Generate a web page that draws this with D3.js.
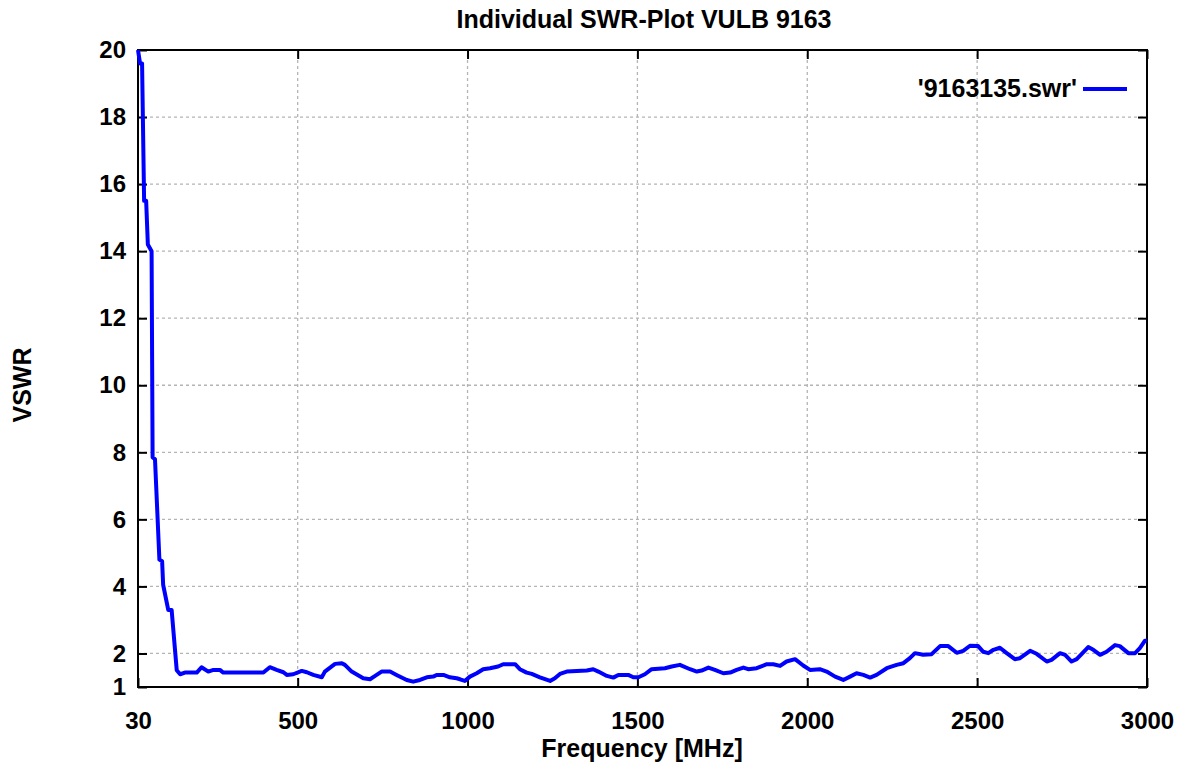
<!DOCTYPE html>
<html>
<head>
<meta charset="utf-8">
<script src="https://cdn.jsdelivr.net/npm/d3@7"></script>
<style>
  body { margin: 0; background: #fff; }
  text { font-family: "Liberation Sans", Arial, sans-serif; font-weight: bold; fill: #000; }
</style>
</head>
<body>
<div id="chart"></div>
<script>
// measured SWR trace, frequency in MHz
var freq = [30, 36, 42, 48, 54, 59, 70, 73, 80, 93, 101, 104, 119, 129, 144, 154, 168, 203,
    217, 237, 252, 271, 281, 399, 418, 438, 458, 468, 487, 512, 527, 546, 571, 580, 610,
    630, 639, 659, 693, 713, 728, 747, 772, 791, 821, 840, 860, 880, 899, 909, 929, 948,
    968, 978, 992, 1007, 1027, 1046, 1066, 1090, 1105, 1140, 1154, 1174, 1189, 1213, 1243,
    1257, 1272, 1292, 1351, 1370, 1385, 1410, 1429, 1444, 1473, 1488, 1503, 1522, 1542,
    1581, 1601, 1625, 1655, 1675, 1689, 1709, 1728, 1753, 1773, 1792, 1812, 1826, 1851,
    1881, 1900, 1920, 1939, 1964, 1988, 2008, 2037, 2057, 2082, 2106, 2126, 2145, 2165,
    2185, 2204, 2234, 2263, 2283, 2302, 2317, 2341, 2366, 2391, 2415, 2440, 2459, 2479,
    2503, 2518, 2533, 2548, 2567, 2587, 2611, 2626, 2656, 2675, 2705, 2719, 2744, 2759,
    2778, 2793, 2808, 2827, 2842, 2862, 2881, 2906, 2920, 2945, 2965, 2979, 2994, 3000];
var vswr = [20.0, 19.6, 19.6, 15.5, 15.5, 14.2, 14.0, 7.85, 7.8, 4.8, 4.75, 4.05, 3.3, 3.3, 1.5, 1.38, 1.43, 1.43,
    1.59, 1.46, 1.51, 1.51, 1.43, 1.43, 1.59, 1.51, 1.44, 1.36, 1.38, 1.48, 1.44, 1.36, 1.29, 1.46, 1.69,
    1.71, 1.66, 1.46, 1.26, 1.23, 1.33, 1.46, 1.46, 1.36, 1.21, 1.16, 1.21, 1.29, 1.31, 1.36, 1.36, 1.29,
    1.26, 1.23, 1.18, 1.31, 1.41, 1.53, 1.56, 1.61, 1.68, 1.68, 1.53, 1.43, 1.39, 1.29, 1.18,
    1.26, 1.39, 1.46, 1.49, 1.53, 1.46, 1.33, 1.28, 1.36, 1.36, 1.29, 1.29, 1.38, 1.53,
    1.56, 1.61, 1.66, 1.53, 1.46, 1.49, 1.58, 1.51, 1.41, 1.43, 1.51, 1.58, 1.53, 1.56,
    1.68, 1.68, 1.63, 1.76, 1.83, 1.64, 1.51, 1.53, 1.46, 1.31, 1.21, 1.31, 1.41, 1.36,
    1.28, 1.36, 1.56, 1.66, 1.71, 1.86, 2.01, 1.96, 1.98, 2.22, 2.22, 2.02, 2.08, 2.23,
    2.22, 2.05, 2.01, 2.11, 2.17, 2.01, 1.83, 1.86, 2.08, 1.99, 1.76, 1.81, 2.01, 1.96,
    1.76, 1.83, 1.99, 2.19, 2.11, 1.96, 2.05, 2.25, 2.22, 2.01, 2.01, 2.16, 2.38, 2.38];

var xTicks = [30, 500, 1000, 1500, 2000, 2500, 3000];
var yTicks = [1, 2, 4, 6, 8, 10, 12, 14, 16, 18, 20];

var titleText = "Individual SWR-Plot VULB 9163";
var xLabel = "Frequency [MHz]";
var yLabel = "VSWR";
var legendLabel = "'9163135.swr'";

var width = 1189, height = 769;
var margin = {left: 138, right: 42, top: 50, bottom: 82};

var svg = d3.select("#chart").append("svg")
    .attr("width", width)
    .attr("height", height);

var x = d3.scaleLinear().domain([30, 3000]).range([margin.left, width - margin.right]);
var y = d3.scaleLinear().domain([1, 20]).range([height - margin.bottom, margin.top]);

// grid
svg.append("g").selectAll("line")
    .data(xTicks.slice(1, -1))
    .enter().append("line")
    .attr("x1", function (d) { return x(d); })
    .attr("x2", function (d) { return x(d); })
    .attr("y1", y(1)).attr("y2", y(20))
    .attr("stroke", "#b4b4b4").attr("stroke-width", 1.3)
    .attr("stroke-dasharray", "3,3");

svg.append("g").selectAll("line")
    .data(yTicks.slice(1, -1))
    .enter().append("line")
    .attr("y1", function (d) { return y(d); })
    .attr("y2", function (d) { return y(d); })
    .attr("x1", x(30)).attr("x2", x(3000))
    .attr("stroke", "#b4b4b4").attr("stroke-width", 1.3)
    .attr("stroke-dasharray", "3,3");

// axes with inward ticks, mirrored
var tickLen = 9;
function addAxis(axis, tx, ty) {
    var g = svg.append("g").attr("transform", "translate(" + tx + "," + ty + ")").call(axis);
    g.select(".domain").remove();
    g.selectAll("line").attr("stroke", "#000").attr("stroke-width", 2);
    return g;
}
var bottom = addAxis(d3.axisBottom(x).tickValues(xTicks).tickSize(-tickLen)
    .tickPadding(25).tickFormat(d3.format("d")), 0, y(1));
bottom.selectAll("text").attr("font-size", 24).attr("font-family", null).attr("font-weight", null);
addAxis(d3.axisTop(x).tickValues(xTicks).tickSize(-tickLen).tickFormat(""), 0, y(20));
var left = addAxis(d3.axisLeft(y).tickValues(yTicks).tickSize(-tickLen).tickPadding(12), x(30), 0);
left.selectAll("text").attr("font-size", 24).attr("font-family", null).attr("font-weight", null);
addAxis(d3.axisRight(y).tickValues(yTicks).tickSize(-tickLen).tickFormat(""), x(3000), 0);

// frame
svg.append("rect")
    .attr("x", x(30)).attr("y", y(20))
    .attr("width", x(3000) - x(30)).attr("height", y(1) - y(20))
    .attr("fill", "none").attr("stroke", "#000").attr("stroke-width", 2);

// data line
var pts = freq.map(function (f, i) { return [f, vswr[i]]; });
svg.append("path")
    .datum(pts)
    .attr("fill", "none")
    .attr("stroke", "#0000ff")
    .attr("stroke-width", 4)
    .attr("stroke-linejoin", "round")
    .attr("d", d3.line().x(function (d) { return x(d[0]); }).y(function (d) { return y(d[1]); }));

// legend
svg.append("text")
    .attr("x", 1077).attr("y", 97)
    .attr("text-anchor", "end")
    .attr("font-size", 25)
    .text(legendLabel);
svg.append("line")
    .attr("x1", 1083).attr("x2", 1127)
    .attr("y1", 89).attr("y2", 89)
    .attr("stroke", "#0000ff").attr("stroke-width", 4);

// labels
svg.append("text")
    .attr("x", 644).attr("y", 28)
    .attr("text-anchor", "middle")
    .attr("font-size", 25)
    .text(titleText);

svg.append("text")
    .attr("x", 642).attr("y", 757)
    .attr("text-anchor", "middle")
    .attr("font-size", 25)
    .text(xLabel);

svg.append("text")
    .attr("transform", "translate(31,385) rotate(-90)")
    .attr("text-anchor", "middle")
    .attr("font-size", 25)
    .text(yLabel);
</script>
</body>
</html>
